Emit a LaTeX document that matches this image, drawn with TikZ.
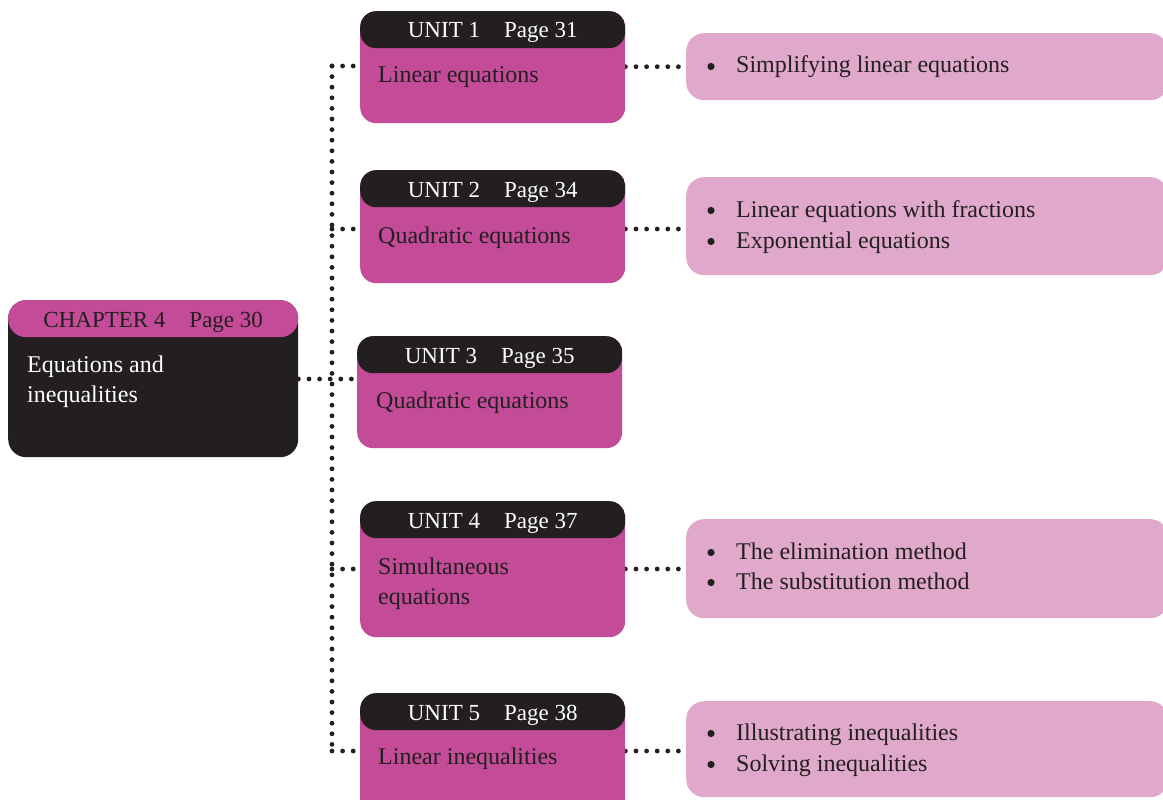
\documentclass[tikz,border=0pt]{standalone}
\usepackage{fontspec}
\setmainfont{Liberation Serif}
\usetikzlibrary{positioning,calc,backgrounds}
\definecolor{chmag}{RGB}{196,75,151}
\definecolor{chdark}{RGB}{35,31,32}
\definecolor{chpink}{RGB}{224,169,204}
\tikzset{
  boxbase/.style 2 args={fill=#1, rounded corners=16pt, anchor=north west, inner sep=0pt,
              path picture={\fill[#2] (path picture bounding box.north west)
                rectangle ([yshift=-37pt]path picture bounding box.north east);}},
  topicbox/.style={fill=chpink, rounded corners=18pt, anchor=north west, inner sep=0pt,
              minimum width=482pt},
  headtxt/.style={font=\fontsize{23}{27}\selectfont, text=white, anchor=base, inner sep=0pt},
  bodytxt/.style={font=\fontsize{24}{30}\selectfont, text=chdark, anchor=base west, inner sep=0pt},
  dotline/.style={chdark, line width=4.8pt, line cap=round, dash pattern=on 0pt off 10.6pt},
}
% bullet in front of a topic line
\newcommand{\tpcdot}[1]{\fill[chdark] ([xshift=-25pt,yshift=6.5pt]#1.base west) circle (3.6pt);}

\begin{document}
\begin{tikzpicture}[x=1pt, y=-1pt]
    \useasboundingbox (0,0) rectangle (1163,800);
    \clip (0,0) rectangle (1163,800);
    % chapter
    \node[boxbase={chdark}{chmag}, rounded corners=18pt, minimum width=290pt, minimum height=157pt] (chap) at (8,300) {};
    \node[headtxt, text=chdark] (chaphead) at ([yshift=-27pt]chap.north) {CHAPTER 4\hspace{24pt}Page 30};
    \node[bodytxt, text=white] (chapline1) at ([xshift=19pt,yshift=-72pt]chap.north west) {Equations and};
    \node[bodytxt, text=white] (chapline2) at ([yshift=-30pt]chapline1.base west) {inequalities};
    % units
    \node[boxbase={chmag}{chdark}, minimum width=265pt, minimum height=112pt] (u1) at (360,11) {};
    \node[headtxt] (u1head) at ([yshift=-27pt]u1.north) {UNIT 1\hspace{24pt}Page 31};
    \node[bodytxt] (u1text) at ([xshift=18pt,yshift=-71pt]u1.north west) {Linear equations};
    \node[boxbase={chmag}{chdark}, minimum width=265pt, minimum height=113pt] (u2) at (360,170) {};
    \node[headtxt] (u2head) at ([yshift=-27pt]u2.north) {UNIT 2\hspace{24pt}Page 34};
    \node[bodytxt] (u2text) at ([xshift=18pt,yshift=-73pt]u2.north west) {Quadratic equations};
    \node[boxbase={chmag}{chdark}, minimum width=265pt, minimum height=112pt] (u3) at (357,336) {};
    \node[headtxt] (u3head) at ([yshift=-27pt]u3.north) {UNIT 3\hspace{24pt}Page 35};
    \node[bodytxt] (u3text) at ([xshift=19pt,yshift=-72pt]u3.north west) {Quadratic equations};
    \node[boxbase={chmag}{chdark}, minimum width=265pt, minimum height=136pt] (u4) at (360,501) {};
    \node[headtxt] (u4head) at ([yshift=-27pt]u4.north) {UNIT 4\hspace{24pt}Page 37};
    \node[bodytxt] (u4text) at ([xshift=18pt,yshift=-73pt]u4.north west) {Simultaneous};
    \node[bodytxt] (u4text2) at ([yshift=-30pt]u4text.base west) {equations};
    \node[boxbase={chmag}{chdark}, minimum width=265pt, minimum height=125pt] (u5) at (360,693) {};
    \node[headtxt] (u5head) at ([yshift=-27pt]u5.north) {UNIT 5\hspace{24pt}Page 38};
    \node[bodytxt] (u5text) at ([xshift=18pt,yshift=-71pt]u5.north west) {Linear inequalities};
    % topics
    \node[topicbox, minimum height=67pt] (t1) at (686,33) {};
    \node[bodytxt] (t1a) at ([xshift=50pt,yshift=-40pt]t1.north west) {Simplifying linear equations};
    \node[topicbox, minimum height=98pt] (t2) at (686,177) {};
    \node[bodytxt] (t2a) at ([xshift=50pt,yshift=-40pt]t2.north west) {Linear equations with fractions};
    \node[bodytxt] (t2b) at ([yshift=-31pt]t2a.base west) {Exponential equations};
    \node[topicbox, minimum height=99pt] (t4) at (686,519) {};
    \node[bodytxt] (t4a) at ([xshift=50pt,yshift=-40pt]t4.north west) {The elimination method};
    \node[bodytxt] (t4b) at ([yshift=-30pt]t4a.base west) {The substitution method};
    \node[topicbox, minimum height=96pt] (t5) at (686,701) {};
    \node[bodytxt] (t5a) at ([xshift=50pt,yshift=-39pt]t5.north west) {Illustrating inequalities};
    \node[bodytxt] (t5b) at ([yshift=-31pt]t5a.base west) {Solving inequalities};
    \tpcdot{t1a} \tpcdot{t2a} \tpcdot{t2b} \tpcdot{t4a} \tpcdot{t4b} \tpcdot{t5a} \tpcdot{t5b}
    % dotted links
    \coordinate (s1) at (332,66);
    \coordinate (s2) at (332,229);
    \coordinate (s3) at (332,379);
    \coordinate (s4) at (332,569);
    \coordinate (s5) at (332,751);
    \begin{scope}[on background layer]
      \draw[dotline] (s1) -- (s5);
      \draw[dotline] (s1) -- (s1 -| u1.west);
      \draw[dotline] (s2) -- (s2 -| u2.west);
      \draw[dotline] (chap.east |- s3) -- (s3 -| u3.west);
      \draw[dotline] (s4) -- (s4 -| u4.west);
      \draw[dotline] (s5) -- (s5 -| u5.west);
      \draw[dotline] (u1.east |- t1.west) -- (t1.west);
      \draw[dotline] (u2.east |- s2) -- (s2 -| t2.west);
      \draw[dotline] (u4.east |- s4) -- (s4 -| t4.west);
      \draw[dotline] (u5.east |- s5) -- (s5 -| t5.west);
    \end{scope}
\end{tikzpicture}
\end{document}
